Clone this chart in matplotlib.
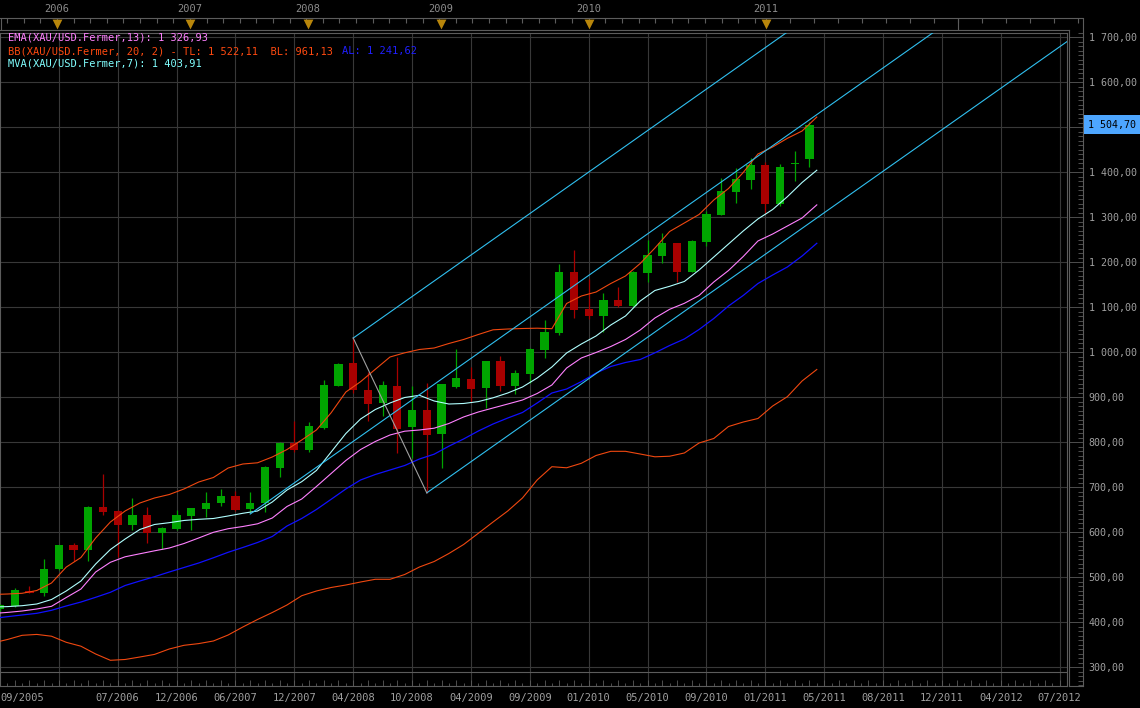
import numpy as np
import matplotlib
matplotlib.use('Agg')
import matplotlib.pyplot as plt

# XAU/USD candles, index 0 = 09/2005
opens = [429, 435.6, 468.9, 464.4, 517.8, 571.1, 560.0, 655.6, 646.7, 615.6,
         637.8, 597.8, 606.7, 635.6, 651.1, 664.4, 680.0, 651.1, 664.4, 742.2,
         798.4, 782.2, 831.8, 925.1, 976.2, 915.6, 887.3, 924.4, 834.0, 871.1,
         818.4, 922.9, 940.0, 920.7, 980.0, 925.1, 951.1, 1005.1, 1042.9, 1177.8,
         1094.9, 1080.7, 1115.6, 1102.2, 1176.2, 1214.0, 1241.6, 1178.4, 1245.1, 1305.1,
         1356.2, 1382.2, 1415.6, 1329.6, 1417.0, 1429.6]
highs = [440, 475.6, 480.0, 540.0, 572.0, 575.6, 657.0, 728.9, 648.0, 675.6,
         655.6, 611.0, 648.9, 654.0, 688.9, 695.6, 691.1, 688.9, 746.0, 799.0,
         846.7, 845.1, 937.8, 976.2, 1032.7, 955.6, 935.6, 989.6, 924.4, 931.8,
         930.0, 1006.0, 967.3, 981.0, 991.1, 960.0, 1008.0, 1071.1, 1196.2, 1226.0,
         1162.2, 1130.4, 1143.8, 1179.0, 1248.9, 1265.1, 1243.0, 1248.9, 1314.0, 1386.7,
         1408.9, 1430.4, 1422.9, 1417.1, 1446.7, 1511.8]
lows = [425, 433.0, 463.8, 457.8, 516.0, 535.6, 535.6, 637.8, 544.4, 604.4,
        575.6, 562.2, 605.0, 604.4, 633.3, 657.8, 647.0, 644.4, 644.4, 722.2,
        778.4, 778.4, 830.0, 924.0, 909.6, 846.7, 857.8, 775.6, 764.4, 686.7,
        742.9, 920.0, 889.6, 875.6, 914.0, 906.7, 930.5, 987.3, 1037.8, 1076.2,
        1073.3, 1045.1, 1099.3, 1100.0, 1156.2, 1197.1, 1156.2, 1177.0, 1236.2, 1304.0,
        1330.4, 1361.6, 1308.2, 1325.1, 1380.7, 1411.8]
closes = [437, 471.1, 464.4, 517.8, 571.1, 560.0, 655.6, 644.4, 615.6, 637.8,
          597.8, 608.9, 637.8, 653.3, 664.4, 680.0, 648.9, 664.4, 744.4, 797.8,
          782.2, 835.6, 926.7, 973.3, 915.6, 885.1, 926.7, 828.9, 871.1, 816.2,
          928.9, 942.2, 918.4, 980.0, 925.1, 953.3, 1006.7, 1044.4, 1177.8, 1093.3,
          1080.7, 1115.6, 1102.2, 1177.8, 1215.6, 1241.6, 1178.4, 1246.7, 1306.7, 1357.8,
          1384.4, 1415.6, 1329.6, 1410.4, 1419.0, 1504.7]

# indicators, one value per candle edge (from -0.5 to 55.5)
ema13 = [418.9, 421.3, 424.4, 428.9, 434.9, 454.4, 473.3, 511.1, 532.7, 544.9,
         551.6, 558.2, 564.4, 574.4, 586.7, 599.3, 607.3, 612.2, 618.2, 631.1,
         656.7, 673.3, 701.1, 730.0, 758.9, 783.3, 801.1, 815.6, 824.0, 826.7,
         830.7, 841.1, 855.6, 866.7, 875.6, 884.4, 893.3, 907.8, 926.7, 964.4,
         986.7, 998.9, 1012.2, 1027.8, 1048.9, 1075.6, 1094.9, 1108.2, 1125.6, 1155.6,
         1181.1, 1212.2, 1246.7, 1262.2, 1280.0, 1297.8, 1326.93]
mva7 = [433.3, 434.2, 436.2, 440.0, 450.0, 468.9, 491.1, 528.9, 561.1, 584.4,
        605.6, 616.7, 620.7, 625.6, 628.2, 630.0, 635.6, 641.6, 646.7, 666.7,
        693.3, 711.8, 736.7, 777.8, 818.9, 851.1, 872.2, 886.7, 898.9, 903.8,
        891.1, 884.4, 885.6, 889.8, 898.2, 908.9, 922.2, 942.2, 966.7, 997.8,
        1017.8, 1035.6, 1060.0, 1080.0, 1113.3, 1136.7, 1146.0, 1156.7, 1182.2, 1211.1,
        1240.0, 1268.9, 1295.6, 1316.7, 1345.1, 1376.7, 1403.91]
bb_top = [461.1, 462.2, 463.8, 470.0, 486.7, 522.0, 543.3, 586.7, 622.2, 646.7,
          664.4, 675.6, 683.3, 695.6, 711.1, 721.1, 742.2, 751.1, 753.8, 766.7,
          783.3, 804.4, 826.7, 865.0, 911.1, 934.0, 961.6, 988.9, 998.2, 1005.6,
          1008.9, 1018.9, 1027.8, 1038.9, 1049.3, 1051.1, 1052.2, 1052.9, 1051.8, 1107.8,
          1124.4, 1133.3, 1152.2, 1168.9, 1196.7, 1231.1, 1267.8, 1286.7, 1305.6, 1337.8,
          1363.3, 1398.9, 1440.0, 1455.6, 1474.9, 1491.1, 1522.11]
bb_low = [353.3, 361.1, 370.4, 372.4, 368.4, 354.9, 346.2, 328.9, 314.9, 316.7,
          322.2, 328.0, 340.0, 348.2, 352.0, 357.8, 371.1, 388.9, 405.6, 421.1,
          437.8, 458.4, 468.9, 476.7, 482.2, 488.9, 494.9, 494.9, 505.6, 522.2,
          534.4, 552.2, 572.2, 597.1, 622.2, 646.7, 675.6, 715.6, 745.1, 742.7,
          752.7, 770.0, 779.3, 779.3, 773.3, 767.1, 768.4, 775.6, 797.8, 807.8,
          834.4, 844.4, 852.2, 880.0, 900.7, 935.6, 961.13]
bb_mid = [408.0, 411.8, 415.6, 419.3, 426.0, 435.6, 444.4, 454.9, 466.0, 481.1,
          491.1, 500.7, 511.1, 521.1, 531.1, 542.7, 554.9, 565.6, 576.7, 590.0,
          613.3, 630.0, 650.0, 672.7, 695.6, 715.6, 727.8, 737.8, 747.8, 762.2,
          772.9, 790.7, 806.7, 824.4, 840.0, 853.3, 865.6, 886.7, 908.9, 917.8,
          934.2, 953.3, 967.8, 976.7, 983.3, 998.2, 1014.4, 1028.9, 1050.0, 1074.4,
          1102.2, 1125.6, 1152.2, 1171.1, 1188.9, 1213.3, 1241.62]

# Andrews pitchfork pivots (candle index, price)
pivot_a = (17, 640.0)
pivot_b = (24, 1031.0)
pivot_c = (29, 687.0)

date_ticks = [0, 8, 12, 16, 20, 24, 28, 32, 36, 40, 44, 48, 52, 56, 60, 64, 68, 72]
date_labels = ['09/2005', '07/2006', '12/2006', '06/2007', '12/2007', '04/2008',
               '10/2008', '04/2009', '09/2009', '01/2010', '05/2010', '09/2010',
               '01/2011', '05/2011', '08/2011', '12/2011', '04/2012', '07/2012']
year_ticks = [4, 13, 21, 30, 40, 52]
year_labels = ['2006', '2007', '2008', '2009', '2010', '2011']
last_price = 1504.70

GRID = '#383838'
FRAME = '#5c5c5c'
TXT = '#a0a0a0'
GREEN = '#00a400'
RED = '#a80000'
BB_C = '#f04810'
EMA_C = '#ff80ff'
MVA_C = '#b0ffff'
AL_C = '#1010ff'
FORK = '#30c0f0'

plt.rcParams['font.family'] = 'DejaVu Sans Mono'

W, H = 1140, 708
X0, XS = -2.1, 14.77


def ix(px):
    return (px - X0) / XS


def val(py):
    return 300 + (667 - py) / 0.45


def fmt(v):
    return f'{v:,.2f}'.replace(',', ' ').replace('.', ',')


fig = plt.figure(figsize=(W / 100, H / 100), dpi=100, facecolor='black')

# main chart
ax = fig.add_axes([0, 1 - 686 / H, 1067 / W, (686 - 33.3) / H])
ax.set_facecolor('black')
ax.set_xlim(ix(0), ix(1067))
ax.set_ylim(val(686), val(33.3))
for s in ax.spines.values():
    s.set_color(FRAME)
    s.set_linewidth(0.8)

for g in range(4, 73, 4):
    ax.axvline(g, color=GRID, lw=0.8, zorder=0)
for v in range(300, 1800, 100):
    ax.axhline(v, color=GRID, lw=0.8, zorder=0)
ax.axhline(val(672), color=FRAME, lw=0.8, zorder=1)

labels = [''] * 73
for i, lab in zip(date_ticks, date_labels):
    labels[i] = lab
ax.set_xticks(np.arange(73), labels)
ax.set_xticks(np.arange(0.5, 73, 1), minor=True)
ax.tick_params(axis='x', which='major', direction='in', length=4.3, width=0.6,
               color=FRAME, labelcolor=TXT, labelsize=7.5, pad=5)
ax.tick_params(axis='x', which='minor', direction='in', length=2.2, width=0.6,
               color=FRAME)
ax.tick_params(axis='y', left=False, labelleft=False)
ax.get_xticklabels()[0].set_ha('left')

# candles
o = np.array(opens)
c = np.array(closes)
idx = np.arange(len(o))
cols = np.where(c >= o, GREEN, RED)
ax.vlines(idx, lows, highs, colors=cols, lw=0.9, zorder=3)
ax.bar(idx, np.maximum(np.abs(c - o), 1.5), bottom=np.minimum(o, c), width=0.56,
       color=cols, lw=0, zorder=4)

# indicators
lx = np.arange(-1, len(o)) + 0.5
ax.plot(lx, bb_low, color=BB_C, lw=0.8, zorder=5)
ax.plot(lx, bb_top, color=BB_C, lw=0.8, zorder=5)
ax.plot(lx, bb_mid, color=AL_C, lw=0.9, zorder=5)
ax.plot(lx, ema13, color=EMA_C, lw=0.8, zorder=5)
ax.plot(lx, mva7, color=MVA_C, lw=0.8, zorder=5)

# pitchfork
mid = ((pivot_b[0] + pivot_c[0]) / 2, (pivot_b[1] + pivot_c[1]) / 2)
slope = (mid[1] - pivot_a[1]) / (mid[0] - pivot_a[0])
x_end = 100
for px0, py0 in [pivot_a, pivot_b, pivot_c]:
    ax.plot([px0, x_end], [py0, py0 + slope * (x_end - px0)], color=FORK, lw=0.8, zorder=6)
ax.plot([pivot_b[0], pivot_c[0]], [pivot_b[1], pivot_c[1]], color='#a0a0a0', lw=0.8, zorder=6)

# legend texts
fig.text(8 / W, 1 - 38 / H, f'EMA(XAU/USD.Fermer,13): {fmt(ema13[-1])}',
         color=EMA_C, fontsize=7.5, va='center')
t_bb = fig.text(8 / W, 1 - 51 / H,
                f'BB(XAU/USD.Fermer, 20, 2) - TL: {fmt(bb_top[-1])}  BL: {fmt(bb_low[-1])}',
                color='#ff4a10', fontsize=7.5, va='center')
ax.annotate(f'AL: {fmt(bb_mid[-1])}', xy=(1, 0.5), xycoords=t_bb, xytext=(9, 0),
            textcoords='offset pixels', va='center', ha='left', color='#2020ff',
            fontsize=7.5, annotation_clip=False)
fig.text(8 / W, 1 - 64 / H, f'MVA(XAU/USD.Fermer,7): {fmt(mva7[-1])}',
         color='#80ffff', fontsize=7.5, va='center')

# right price axis
axr = fig.add_axes([1069 / W, 1 - 686 / H, 14 / W, (686 - 18) / H])
axr.set_facecolor('black')
axr.set_xlim(0, 1)
axr.set_ylim(val(686), val(18))
for s in axr.spines.values():
    s.set_color(FRAME)
    s.set_linewidth(0.8)
axr.spines['top'].set_visible(False)
axr.spines['left'].set_bounds(val(686), val(30.3))
axr.set_xticks([])
axr.yaxis.tick_right()
majors = np.arange(300, 1800, 100)
# the 1 500 label sits under the last-price box
axr.set_yticks(majors, ['' if v == 1500 else fmt(v) for v in majors])
axr.set_yticks(np.arange(260, 1712, 10), minor=True)
axr.tick_params(axis='y', which='major', direction='in', length=10, width=0.6,
                color=FRAME, labelcolor=TXT, labelsize=7.2, pad=4)
axr.tick_params(axis='y', which='minor', direction='in', length=3.6, width=0.6,
                color=FRAME)
axr.annotate(fmt(last_price), xy=(1.0, last_price), xycoords=axr.get_yaxis_transform(),
             xytext=(5, 0), textcoords='offset pixels',
             ha='left', va='center', color='black', fontsize=7.2, zorder=10,
             annotation_clip=False,
             bbox=dict(boxstyle='square,pad=0.45', facecolor='#4da6ff', edgecolor='none'))

# top date strip
axt = fig.add_axes([0, 1 - 30.3 / H, 1083 / W, 30.3 / H])
axt.set_xlim(ix(0), ix(1083))
axt.set_ylim(30.3, 0)
axt.axis('off')
axt.axhline(18, color=FRAME, lw=0.8)
top_minor = np.r_[np.arange(4 - 3 * 1.125, 52, 1.125), np.arange(52, 73.5, 1.625)]
axt.vlines(top_minor, 18, 23, color=FRAME, lw=0.8)
axt.vlines([ix(0.5), 65], 18, 30.3, color=FRAME, lw=0.8)
axt.axhline(30.3, xmax=1069 / 1083, color=FRAME, lw=0.8, clip_on=False)
axt.scatter(year_ticks, [24.3] * len(year_ticks), marker='v', s=50, color='#b8860b',
            lw=0, zorder=3, clip_on=False)
for x, lab in zip(year_ticks, year_labels):
    axt.text(x, 9.5, lab, ha='center', va='center', color='#8c8c8c', fontsize=7.5)

fig.savefig('out.png', dpi=100, facecolor='black')
